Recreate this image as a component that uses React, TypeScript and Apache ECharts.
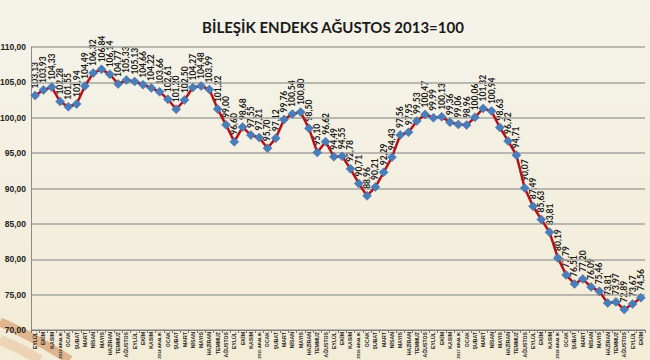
import React, { useEffect, useRef } from "react";
import * as echarts from "echarts";

const categories = [
  "EYLÜL", "EKİM", "KASIM", "2013 ARALIK",
  "OCAK", "ŞUBAT", "MART", "NİSAN", "MAYIS", "HAZİRAN", "TEMMUZ", "AĞUSTOS", "EYLÜL", "EKİM", "KASIM", "2014 ARALIK",
  "OCAK", "ŞUBAT", "MART", "NİSAN", "MAYIS", "HAZİRAN", "TEMMUZ", "AĞUSTOS", "EYLÜL", "EKİM", "KASIM", "2015 ARALIK",
  "OCAK", "ŞUBAT", "MART", "NİSAN", "MAYIS", "HAZİRAN", "TEMMUZ", "AĞUSTOS", "EYLÜL", "EKİM", "KASIM", "2016 ARALIK",
  "OCAK", "ŞUBAT", "MART", "NİSAN", "MAYIS", "HAZİRAN", "TEMMUZ", "AĞUSTOS", "EYLÜL", "EKİM", "KASIM", "2017 ARALIK",
  "OCAK", "ŞUBAT", "MART", "NİSAN", "MAYIS", "HAZİRAN", "TEMMUZ", "AĞUSTOS", "EYLÜL", "EKİM", "KASIM", "2018 ARALIK",
  "OCAK", "ŞUBAT", "MART", "NİSAN", "MAYIS", "HAZİRAN", "TEMMUZ", "AĞUSTOS", "EYLÜL", "EKİM",
];

const values = [
  103.13, 103.93, 104.33, 102.28,
  101.55, 101.94, 104.49, 106.32, 106.84, 106.14, 104.77, 105.33, 105.13, 104.66, 104.22, 103.66,
  102.61, 101.2, 102.5, 104.27, 104.48, 103.99, 101.22, 99.0, 96.6, 98.68, 97.55, 97.21,
  95.7, 97.12, 99.76, 100.54, 100.8, 98.5, 95.1, 96.62, 94.49, 94.55, 92.78, 90.71,
  88.96, 90.21, 92.29, 94.43, 97.56, 97.95, 99.53, 100.47, 99.99, 100.13, 99.36, 99.06,
  98.96, 100.06, 101.32, 100.94, 98.63, 96.72, 94.71, 90.07, 87.49, 85.63, 83.81, 80.19,
  77.79, 76.51, 77.2, 76.09, 75.46, 73.81, 73.97, 72.89, 73.67, 74.56,
];

const yMin = 70;
const yMax = 110;
const yStep = 5;

const fmt = (v: number) => v.toFixed(2).replace(".", ",");

export default function App() {
  const ref = useRef<HTMLDivElement>(null);
  useEffect(() => {
    document.body.style.margin = "0";
    if (!ref.current) return;
    const chart = echarts.init(ref.current, null, { renderer: "svg" });
    const axisData = categories.map((c) =>
      c.indexOf("ARALIK") >= 0 ? { value: c, textStyle: { fontSize: 4.3 } } : c
    );
    const decor: any[] = [
      {
        type: "bezierCurve",
        shape: { x1: 0, y1: 322, x2: 70, y2: 360, cpx1: 30, cpy1: 335 },
        style: { stroke: "#d9a77e", lineWidth: 9, fill: null, opacity: 0.8 },
        silent: true,
      },
      {
        type: "bezierCurve",
        shape: { x1: 0, y1: 340, x2: 40, y2: 360, cpx1: 20, cpy1: 348 },
        style: { stroke: "#e9c9a6", lineWidth: 10, fill: null, opacity: 0.7 },
        silent: true,
      },
    ];
    chart.setOption({
      animation: false,
      backgroundColor: {
        type: "linear", x: 0, y: 0, x2: 0, y2: 1,
        colorStops: [
          { offset: 0, color: "#f4f3ea" },
          { offset: 1, color: "#f3ecd6" },
        ],
      },
      graphic: decor,
      title: {
        text: "BİLEŞİK ENDEKS AĞUSTOS 2013=100",
        left: 328,
        textAlign: "center",
        top: 14,
        textStyle: { fontFamily: "Lato", fontWeight: "bold", fontSize: 15, color: "#1a1a1a" },
      },
      grid: { left: 31, right: 5, top: 47, bottom: 30, outerBoundsMode: "none", containLabel: false },
      xAxis: {
        type: "category",
        data: axisData,
        boundaryGap: true,
        axisLine: { show: true, lineStyle: { color: "#7a7a7a", width: 1 } },
        axisTick: { show: true, interval: 0, length: 3, lineStyle: { color: "#7a7a7a" } },
        axisLabel: {
          interval: 0,
          rotate: 90,
          fontSize: 5.2,
          fontWeight: "bold",
          fontFamily: "Liberation Sans",
          color: "#222",
          margin: 2,
        },
      },
      yAxis: {
        type: "value",
        min: yMin,
        max: yMax,
        interval: yStep,
        axisLine: { show: true, lineStyle: { color: "#8a8a8a", width: 1 } },
        axisTick: { show: false },
        splitLine: { show: true, lineStyle: { color: "#a5a5a0", width: 1.5 } },
        axisLabel: {
          formatter: (v: number) => fmt(v),
          fontSize: 8.5,
          fontWeight: "bold",
          fontFamily: "Liberation Sans",
          color: "#222",
          margin: 5,
        },
      },
      series: [
        {
          type: "line",
          data: values,
          symbol: "diamond",
          symbolSize: 9,
          lineStyle: { color: "#b5121b", width: 2.5 },
          itemStyle: { color: "#4a7ebb", borderColor: "#3a6aa5", borderWidth: 0.5 },
          label: { show: false },
        },
      ],
    });
    // Vertical value labels, placed through the chart's own scales
    const labels = values.map((v, i) => {
      const p = chart.convertToPixel({ seriesIndex: 0 }, [i, v]) as number[];
      return {
        type: "text",
        x: p[0],
        y: p[1] - 7,
        rotation: Math.PI / 2,
        silent: true,
        style: {
          text: fmt(v),
          align: "left",
          verticalAlign: "middle",
          fontSize: 8.5,
          fontWeight: "bold",
          fontFamily: "Lato",
          fill: "#1a1a1a",
        },
      };
    });
    chart.setOption({ graphic: decor.concat(labels) });
    return () => chart.dispose();
  }, []);
  return <div ref={ref} style={{ width: 650, height: 360 }} />;
}
